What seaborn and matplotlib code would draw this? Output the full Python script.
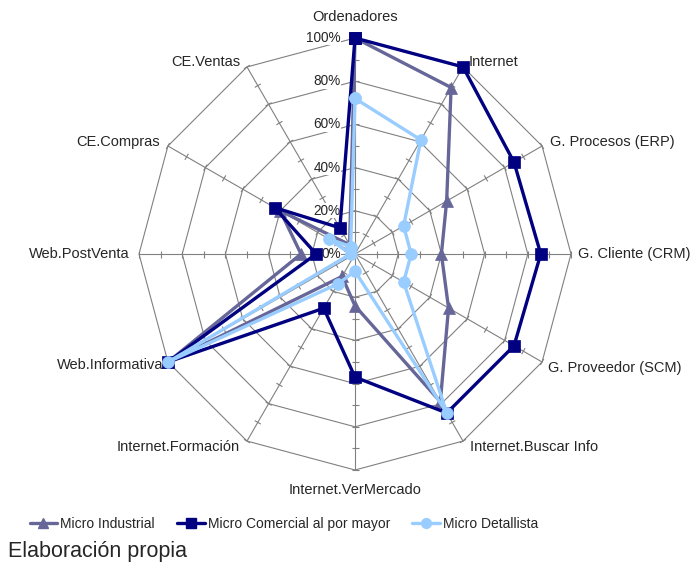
import numpy as np
import pandas as pd
import matplotlib
matplotlib.use('Agg')
import matplotlib.pyplot as plt
import seaborn as sns
from matplotlib.collections import LineCollection

categorias = ['Ordenadores', 'Internet', 'G. Procesos (ERP)', 'G. Cliente (CRM)',
              'G. Proveedor (SCM)', 'Internet.Buscar Info', 'Internet.VerMercado',
              'Internet.Formación', 'Web.Informativa', 'Web.PostVenta',
              'CE.Compras', 'CE.Ventas']
industrial = [1.00, 0.89, 0.49, 0.40, 0.50, 0.79, 0.24, 0.12, 1.00, 0.25, 0.40, 0.05]
comercial = [1.00, 1.00, 0.85, 0.86, 0.85, 0.85, 0.57, 0.29, 1.00, 0.18, 0.43, 0.14]
detallista = [0.72, 0.61, 0.26, 0.26, 0.26, 0.85, 0.08, 0.16, 1.00, 0.02, 0.14, 0.04]
series = ['Micro Industrial', 'Micro Comercial al por mayor', 'Micro Detallista']
niveles = [0.0, 0.2, 0.4, 0.6, 0.8, 1.0]
etiquetas_niveles = ['0%', '20%', '40%', '60%', '80%', '100%']

colores = ['#666699', '#000080', '#99CCFF']
marcadores = ['^', 's', 'o']

sns.set_style('white')
plt.rcParams['font.family'] = ['Liberation Sans', 'DejaVu Sans']

W, H = 700, 571
cx, cy, R = 355, 254, 216
fig = plt.figure(figsize=(W / 100, H / 100), dpi=100)
ax = fig.add_axes([0, 0, 1, 1])
ax.set_xlim(-cx / R, (W - cx) / R)
ax.set_ylim(-(H - cy) / R, cy / R)
ax.set_aspect('equal')
ax.axis('off')

n = len(categorias)
ang = np.arange(n) * 2 * np.pi / n
ux, uy = np.sin(ang), np.cos(ang)

# rejilla poligonal
grid_kw = dict(color='#808080', lw=0.8, zorder=1)
for lv in niveles[1:]:
    ax.plot(np.append(ux, ux[0]) * lv, np.append(uy, uy[0]) * lv, **grid_kw)
for i in range(n):
    ax.plot([0, ux[i]], [0, uy[i]], **grid_kw)

# marcas de escala cada 10%
segs = []
t = 3.5 / R
for i in range(n):
    px, py = uy[i], -ux[i]
    for k in range(1, 11):
        r = k / 10
        segs.append([(ux[i] * r - px * t, uy[i] * r - py * t),
                     (ux[i] * r + px * t, uy[i] * r + py * t)])
ax.add_collection(LineCollection(segs, colors='#808080', lw=0.8, zorder=1))

# series
for nombre, vals, col, mk in zip(series, [industrial, comercial, detallista], colores, marcadores):
    v = np.array(vals + vals[:1])
    a = np.append(ang, ang[0])
    df = pd.DataFrame({'x': v * np.sin(a), 'y': v * np.cos(a)})
    sns.lineplot(data=df, x='x', y='y', sort=False, estimator=None, color=col,
                 lw=2.4, marker=mk, markersize=8 if mk != 'o' else 8.5,
                 mec=col, mfc=col, mew=0.5, ax=ax, label=nombre, zorder=3,
                 legend=False)

# etiquetas de niveles
for lv, lab in zip(niveles, etiquetas_niveles):
    ax.text(-14 / R, lv, lab, ha='right', va='center', fontsize=9.8,
            bbox=dict(facecolor='white', edgecolor='none', pad=0.3), zorder=2)

# etiquetas de categorias
offsets = [(0, 21), (6, 5), (8, 4), (7, 0), (6, -6), (7, -6), (0, -20),
           (-7, -6), (-5, -3), (-9, 0), (-8, 4), (-7, 5)]
for i, cat in enumerate(categorias):
    dx, dy = offsets[i]
    ha = 'center' if dx == 0 else ('left' if dx > 0 else 'right')
    ax.annotate(cat, (ux[i], uy[i]), xytext=(dx, dy), textcoords='offset pixels',
                ha=ha, va='center', fontsize=10.5)

handles = [plt.Line2D([], [], color=c, marker=m, lw=2.4, markersize=7, mec=c)
           for c, m in zip(colores, marcadores)]
fig.legend(handles, series, ncol=3, loc='center left', bbox_to_anchor=(24 / W, 1 - 524 / H),
           frameon=False, fontsize=10, handlelength=2.0, handletextpad=0.2,
           columnspacing=1.6, borderaxespad=0)

fig.text(8 / W, 1 - 552 / H, 'Elaboración propia', ha='left', va='center', fontsize=15.5)

fig.savefig('out.png', dpi=100)
